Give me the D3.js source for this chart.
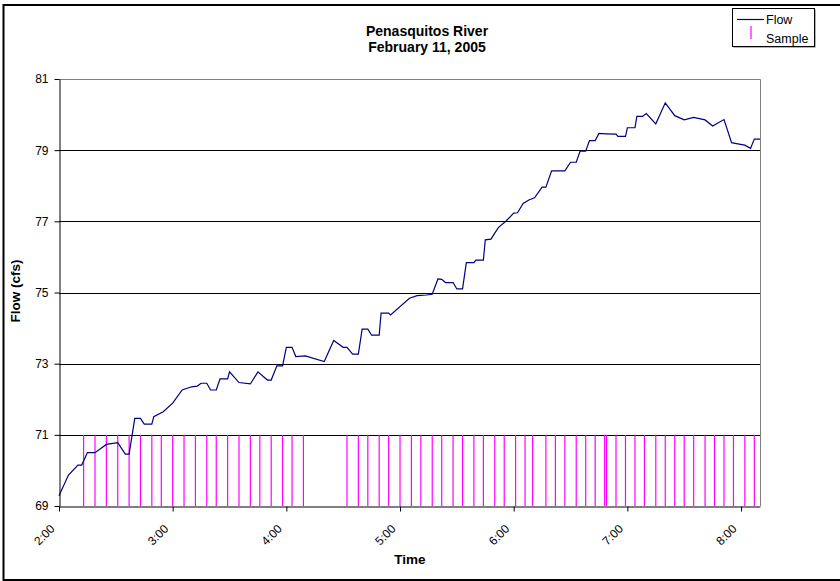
<!DOCTYPE html>
<html>
<head>
<meta charset="utf-8">
<script src="https://cdn.jsdelivr.net/npm/d3@7"></script>
<style>
  body { margin: 0; background: #fff; }
  svg text { font-family: Arial, "Liberation Sans", sans-serif; }
</style>
</head>
<body>
<div id="chart"></div>
<script>
// Flow readings (time of day, cfs)
const flowTimes = [
  "2:00", "2:05", "2:10", "2:12", "2:15", "2:19", "2:25", "2:31", "2:35", "2:37",
  "2:40", "2:43", "2:45", "2:49", "2:50", "2:55", "3:00", "3:05", "3:10", "3:13",
  "3:15", "3:18", "3:20", "3:23", "3:25", "3:29", "3:30", "3:35", "3:41", "3:45",
  "3:50", "3:52", "3:55", "3:58", "4:00", "4:03", "4:05", "4:10", "4:20", "4:25",
  "4:30", "4:32", "4:35", "4:38", "4:40", "4:43", "4:45", "4:49", "4:50", "4:54",
  "4:55", "5:05", "5:09", "5:14", "5:17", "5:20", "5:22", "5:24", "5:28", "5:30",
  "5:33", "5:35", "5:39", "5:40", "5:44", "5:45", "5:48", "5:50", "5:52", "5:56",
  "6:00", "6:02", "6:05", "6:08", "6:11", "6:15", "6:17", "6:20", "6:27", "6:30",
  "6:33", "6:35", "6:38", "6:40", "6:43", "6:45", "6:49", "6:54", "6:55", "6:59",
  "7:00", "7:04", "7:05", "7:08", "7:10", "7:15", "7:20", "7:25", "7:30", "7:35",
  "7:41", "7:45", "7:51", "7:55", "7:59", "8:02", "8:05", "8:07", "8:10"
];
const flowValues = [
  69.29, 69.87, 70.15, 70.15, 70.50, 70.50, 70.73, 70.78, 70.46, 70.46,
  71.46, 71.46, 71.30, 71.30, 71.51, 71.65, 71.89, 72.26, 72.35, 72.37,
  72.45, 72.45, 72.26, 72.26, 72.57, 72.57, 72.77, 72.47, 72.43, 72.77,
  72.54, 72.54, 72.94, 72.94, 73.46, 73.46, 73.20, 73.22, 73.06, 73.65,
  73.46, 73.46, 73.27, 73.27, 73.97, 73.97, 73.80, 73.80, 74.42, 74.42,
  74.37, 74.84, 74.91, 74.93, 74.95, 75.38, 75.37, 75.28, 75.28, 75.10,
  75.10, 75.84, 75.84, 75.91, 75.91, 76.48, 76.50, 76.67, 76.83, 77.01,
  77.23, 77.24, 77.50, 77.60, 77.66, 77.96, 77.96, 78.42, 78.42, 78.66,
  78.66, 78.97, 78.97, 79.27, 79.27, 79.47, 79.46, 79.45, 79.39, 79.39,
  79.63, 79.63, 79.95, 79.95, 80.03, 79.74, 80.33, 79.97, 79.85, 79.92,
  79.85, 79.68, 79.86, 79.21, 79.17, 79.14, 79.05, 79.31, 79.31
];

// Sample collection times
const sampleTimes = [
  "2:13", "2:19", "2:25", "2:31", "2:37", "2:43", "2:49", "2:54", "3:00", "3:06",
  "3:12", "3:18", "3:23", "3:29", "3:35", "3:41", "3:46", "3:52", "3:58", "4:03",
  "4:09", "4:32", "4:38", "4:43", "4:49", "4:54", "5:00", "5:06", "5:11", "5:17",
  "5:22", "5:28", "5:33", "5:39", "5:44", "5:50", "5:55", "6:01", "6:06", "6:10",
  "6:17", "6:22", "6:27", "6:33", "6:38", "6:43", "6:48", "6:49", "6:54", "6:59",
  "7:04", "7:09", "7:15", "7:20", "7:25", "7:30", "7:35", "7:41", "7:46", "7:51",
  "7:56", "8:02", "8:07"
];
const sampleLow = 69;
const sampleHigh = 71;

const xTickLabels = ["2:00", "3:00", "4:00", "5:00", "6:00", "7:00", "8:00"];
const yTicks = [69, 71, 73, 75, 77, 79, 81];
const xDomain = ["2:00", "8:10"];

const width = 840, height = 581;
const margin = { top: 79, right: 80, bottom: 75, left: 59 };
const innerW = 760 - margin.left;
const innerH = 506 - margin.top;

const parseTime = d3.timeParse("%H:%M");

const svg = d3.select("#chart").append("svg")
  .attr("width", width)
  .attr("height", height);

// outer chart frame
svg.append("rect")
  .attr("x", 3.5).attr("y", 5).attr("width", 840).attr("height", 575)
  .attr("fill", "none").attr("stroke", "#000").attr("stroke-width", 2);

const x = d3.scaleTime()
  .domain(xDomain.map(parseTime))
  .range([0, innerW]);
const y = d3.scaleLinear().domain([69, 81]).range([innerH, 0]);

const g = svg.append("g")
  .attr("transform", `translate(${margin.left},${margin.top})`);

// plot border (top and right, grey)
g.append("path")
  .attr("d", `M0.5,0.5H${innerW + 0.5}V${innerH}`)
  .attr("fill", "none").attr("stroke", "#808080");

// horizontal gridlines
g.append("g")
  .selectAll("line")
  .data(yTicks.filter((d) => d > 69 && d < 81))
  .join("line")
  .attr("x1", 0).attr("x2", innerW)
  .attr("y1", (d) => Math.round(y(d)) + 0.5)
  .attr("y2", (d) => Math.round(y(d)) + 0.5)
  .attr("stroke", "#000");

// sample markers
g.append("g")
  .selectAll("line")
  .data(sampleTimes)
  .join("line")
  .attr("x1", (d) => x(parseTime(d)))
  .attr("x2", (d) => x(parseTime(d)))
  .attr("y1", y(sampleLow))
  .attr("y2", y(sampleHigh))
  .attr("stroke", "#ff00ff")
  .attr("stroke-width", 1.2);

// flow line
const flowData = flowTimes.map((t, i) => ({ t: parseTime(t), v: flowValues[i] }));
g.append("path")
  .datum(flowData)
  .attr("fill", "none")
  .attr("stroke", "#000080")
  .attr("stroke-width", 1.2)
  .attr("d", d3.line().x((d) => x(d.t)).y((d) => y(d.v)));

// y axis
const yAxis = g.append("g")
  .attr("transform", "translate(0.5,0)")
  .call(d3.axisLeft(y).tickValues(yTicks).tickSize(5).tickSizeOuter(0).tickPadding(6));
yAxis.select(".domain").attr("stroke", "#000");
yAxis.selectAll("text").attr("font-size", 12).attr("fill", "#000");

// x axis
const xAxis = g.append("g")
  .attr("transform", `translate(0,${Math.round(innerH) + 0.5})`)
  .call(d3.axisBottom(x)
    .tickValues(xTickLabels.map(parseTime))
    .tickFormat(d3.timeFormat("%-H:%M"))
    .tickSize(5).tickSizeOuter(0));
xAxis.select(".domain").attr("stroke", "#000");
xAxis.selectAll("text")
  .attr("font-size", 12)
  .attr("fill", "#000")
  .attr("text-anchor", "end")
  .attr("x", 0)
  .attr("y", 0)
  .attr("dy", "0.35em")
  .attr("transform", "translate(-7,20) rotate(-45)");

// titles
const title = svg.append("text")
  .attr("x", 427).attr("y", 36)
  .attr("text-anchor", "middle")
  .attr("font-size", 14).attr("font-weight", "bold");
title.append("tspan").attr("x", 427).text("Penasquitos River");
title.append("tspan").attr("x", 427).attr("dy", 16).text("February 11, 2005");

svg.append("text")
  .attr("x", 410).attr("y", 564)
  .attr("text-anchor", "middle")
  .attr("font-size", 13.5).attr("font-weight", "bold")
  .text("Time");

svg.append("text")
  .attr("transform", "translate(20,291) rotate(-90)")
  .attr("text-anchor", "middle")
  .attr("font-size", 13.5).attr("font-weight", "bold")
  .text("Flow (cfs)");

// legend
const legend = svg.append("g").attr("transform", "translate(732,8)");
legend.append("rect")
  .attr("x", 1.5).attr("y", 1.5).attr("width", 82).attr("height", 38)
  .attr("fill", "#666");
legend.append("rect")
  .attr("x", 0.5).attr("y", 0.5).attr("width", 82).attr("height", 38)
  .attr("fill", "#fff").attr("stroke", "#000");
legend.append("line")
  .attr("x1", 5).attr("x2", 32).attr("y1", 11.5).attr("y2", 11.5)
  .attr("stroke", "#000080").attr("stroke-width", 1.2);
legend.append("line")
  .attr("x1", 19).attr("x2", 19).attr("y1", 18).attr("y2", 31)
  .attr("stroke", "#ff00ff").attr("stroke-width", 1.2);
legend.append("text")
  .attr("x", 34).attr("y", 16)
  .attr("font-size", 12.5).text("Flow");
legend.append("text")
  .attr("x", 34).attr("y", 34.5)
  .attr("font-size", 12.5).text("Sample");
</script>
</body>
</html>
